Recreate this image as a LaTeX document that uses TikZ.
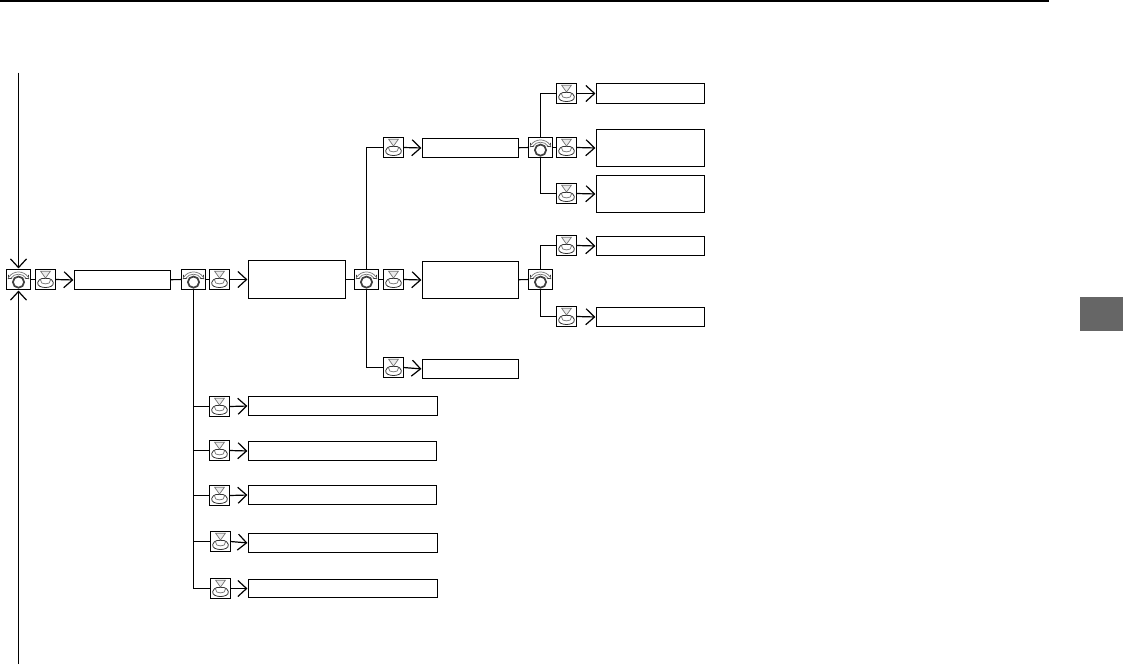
\documentclass[tikz,border=0pt]{standalone}
\usetikzlibrary{arrows.meta}
\definecolor{tabgrey}{HTML}{666666}
\definecolor{icongrey}{HTML}{777777}
\tikzset{
  x=0.75pt,y=-0.75pt,
  framed/.style={draw=black,line width=0.9pt,fill=white,inner sep=0pt,outer sep=0pt},
  conn/.style={draw=black,line width=0.9pt},
  arrowconn/.style={conn,-{Straight Barb[length=6.5pt,width=12pt,line width=0.9pt]},shorten >=0.8pt},
  icondark/.style={draw=black!80,line width=0.5pt},
  iconlight/.style={draw=icongrey,line width=0.55pt}
}
\newcommand{\labelbox}[5]{\node[framed,minimum width={0.75pt*(#4-#2)},minimum height={0.75pt*(#5-#3)}] (#1) at ({(#2+#4)/2},{(#3+#5)/2}) {};}
\newcommand{\dialicon}[3]{%
  \node[framed,minimum width=18pt,minimum height=15pt] (#1) at (#2,#3) {};
  \begin{scope}[shift={(#2,#3)}]
    \draw[black!75,line width=1.3pt] (0,2.6) circle[radius=5.6];
    \draw[iconlight] (-9.5,-2.6) .. controls (-5,-9.2) and (5,-9.2) .. (9.5,-2.6);
    \draw[iconlight] (-7.5,-1.4) .. controls (-4,-6.6) and (4,-6.6) .. (7.5,-1.4);
    \draw[icondark] (-10,-4.6) -- (-10.2,-0.8) -- (-6.4,-1.2);
    \draw[icondark] (10,-4.6) -- (10.2,-0.8) -- (6.4,-1.2);
  \end{scope}}
\newcommand{\pushicon}[3]{%
  \node[framed,minimum width=15pt,minimum height=15pt] (#1) at (#2,#3) {};
  \begin{scope}[shift={(#2,#3)}]
    \draw[icondark,line width=0.6pt] (-7.8,3) .. controls (-8.4,6.6) and (-4,8) .. (0,8) .. controls (4,8) and (8.4,6.6) .. (7.8,3) .. controls (7.2,0.6) and (5.4,-0.6) .. (3.4,-1) -- (-3.4,-1) .. controls (-5.4,-0.6) and (-7.2,0.6) .. (-7.8,3) -- cycle;
    \draw[iconlight] (-5,0.4) .. controls (-5.6,3.4) and (-2.5,4.4) .. (0,4.4) .. controls (2.5,4.4) and (5.6,3.4) .. (5,0.4);
    \draw[iconlight,fill=black!8] (-4.8,-8.2) -- (4.8,-8.2) -- (0,-1.4) -- cycle;
  \end{scope}}
\begin{document}
\begin{tikzpicture}
\useasboundingbox (0,0) rectangle (1123,664);
% page furniture
\coordinate (ruleL) at (0,1);
\coordinate (ruleR) at (1049,1);
\draw[black,line width=1pt] (ruleL) -- (ruleR);
\fill[tabgrey] (1080,297) rectangle (1123,331);
% free ends
\coordinate (topEnd) at (18.5,72.5);
\coordinate (botEnd) at (18.5,664);
% main row
\dialicon{dA}{18.5}{279.5}
\pushicon{pA}{45.5}{279.5}
\labelbox{bA}{74.5}{270.5}{170.5}{289.5}
\dialicon{dB}{193.5}{279.5}
\pushicon{pB}{219.5}{279.5}
\labelbox{bB}{248.5}{260.5}{345.5}{298.5}
\dialicon{dC}{366.5}{279.5}
\pushicon{pC}{393.5}{279.5}
\labelbox{bC}{422.5}{261.5}{518.5}{298.5}
\dialicon{dD}{540.5}{279.5}
% upper branch
\pushicon{pE}{393.5}{147.5}
\labelbox{bE}{422.5}{138.5}{518.5}{157.5}
\dialicon{dF}{540.5}{147.5}
\pushicon{pF1}{566.5}{93.5}
\labelbox{bF1}{596.5}{83.5}{704.5}{103.5}
\pushicon{pF2}{566.5}{147.5}
\labelbox{bF2}{596.5}{129.5}{704.5}{166.5}
\pushicon{pF3}{566.5}{193.5}
\labelbox{bF3}{596.5}{175.5}{704.5}{212.5}
% right branch of dD
\pushicon{pG1}{566.5}{245.5}
\labelbox{bG1}{596.5}{236.5}{704.5}{255.5}
\pushicon{pG2}{566.5}{316.5}
\labelbox{bG2}{596.5}{307.5}{704.5}{326.5}
% lower branch of dC
\pushicon{pH}{393.5}{367.5}
\labelbox{bH}{422.5}{359.5}{518.5}{378.5}
% lower list
\pushicon{pL1}{219.5}{406.5}
\labelbox{bL1}{248.5}{396.5}{437.5}{415.5}
\pushicon{pL2}{219.5}{450.5}
\labelbox{bL2}{248.5}{441.5}{436.5}{460.5}
\pushicon{pL3}{219.5}{495.5}
\labelbox{bL3}{248.5}{485.5}{436.5}{504.5}
\pushicon{pL4}{220.5}{541.5}
\labelbox{bL4}{248.5}{533.5}{437.5}{552.5}
\pushicon{pL5}{220.5}{588.5}
\labelbox{bL5}{248.5}{579.5}{437.5}{597.5}
% connectors
\draw[arrowconn] (topEnd) -- (dA.north);
\draw[arrowconn] (botEnd) -- (dA.south);
\draw[conn] (dA) -- (pA);
\draw[arrowconn] (pA.east) -- (bA.west);
\draw[conn] (bA) -- (dB);
\draw[conn] (dB) -- (pB);
\draw[arrowconn] (pB.east) -- (bB.west);
\draw[conn] (bB) -- (dC);
\draw[conn] (dC) -- (pC);
\draw[arrowconn] (pC.east) -- (bC.west);
\draw[conn] (bC) -- (dD);
\draw[conn] (dC.north) |- (pE.west);
\draw[arrowconn] (pE.east) -- (bE.west);
\draw[conn] (bE) -- (dF);
\draw[conn] (dF) -- (pF2);
\draw[conn] (dF.north) |- (pF1.west);
\draw[conn] (dF.south) |- (pF3.west);
\draw[arrowconn] (pF1.east) -- (bF1.west);
\draw[arrowconn] (pF2.east) -- (bF2.west);
\draw[arrowconn] (pF3.east) -- (bF3.west);
\draw[conn] (dD.north) |- (pG1.west);
\draw[conn] (dD.south) |- (pG2.west);
\draw[arrowconn] (pG1.east) -- (bG1.west);
\draw[arrowconn] (pG2.east) -- (bG2.west);
\draw[conn] (dC.south) |- (pH.west);
\draw[arrowconn] (pH.east) -- (bH.west);
\draw[conn] (dB.south) |- (pL1.west);
\draw[conn] (dB.south) |- (pL2.west);
\draw[conn] (dB.south) |- (pL3.west);
\draw[conn] (dB.south) |- (pL4.west);
\draw[conn] (dB.south) |- (pL5.west);
\foreach \n in {1,2,3,4,5} {\draw[arrowconn] (pL\n.east) -- (bL\n.west);}
\end{tikzpicture}
\end{document}
